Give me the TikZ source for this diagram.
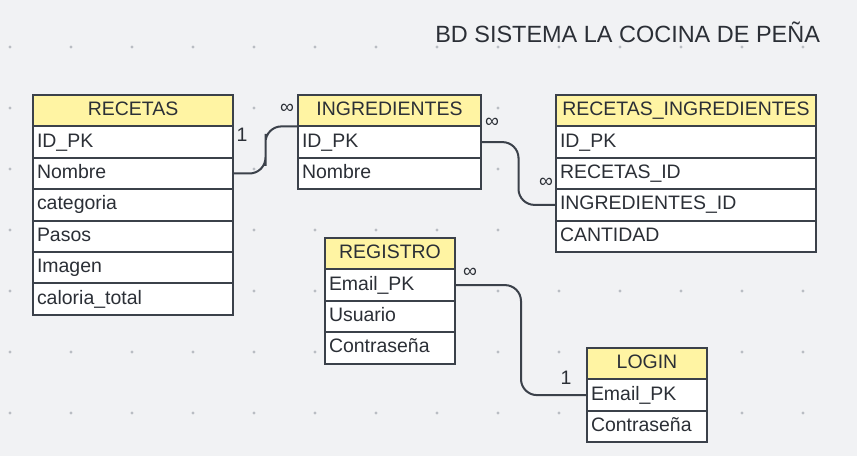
\documentclass[tikz,border=0pt]{standalone}
\usepackage{fontspec}
\setmainfont{Liberation Sans}
\usetikzlibrary{positioning,calc}
\definecolor{bgc}{HTML}{F1F2F4}
\definecolor{dotc}{HTML}{B9BDC3}
\definecolor{linec}{HTML}{3B414A}
\definecolor{headc}{HTML}{FFF4A3}
\definecolor{txtc}{HTML}{2B2F36}
\tikzset{
  cell/.style = {draw=linec, line width=1.5pt, outer sep=0pt, inner xsep=3pt, inner ysep=0pt,
    minimum height=23.55pt, text height=10.6pt, text depth=3pt, text=txtc,
    font=\fontsize{14.6}{17}\selectfont},
  head/.style = {cell, fill=headc, minimum width=#1, anchor=north west},
  row/.style = {cell, fill=white, text width=#1, align=left},
  conn/.style = {draw=linec, line width=1.5pt, rounded corners=12pt},
  card/.style = {text=txtc, inner sep=0pt, font=\fontsize{14.6}{17}\selectfont},
}
\begin{document}
\begin{tikzpicture}[x=0.75pt,y=-0.75pt]
  \fill[bgc] (0,0) rectangle (857,456);
  \useasboundingbox (0,0) rectangle (857,456);
  % dot grid
  \foreach \x in {10,71,...,803}
    \foreach \y in {47,108,...,413}
      \fill[dotc] (\x,\y) circle[radius=1.3pt];
  \node[text=txtc, inner sep=0pt, anchor=base west, font=\fontsize{17.6}{20}\selectfont] (ttl) at (435,43) {BD SISTEMA LA COCINA DE PEÑA};
  % RECETAS
  \node[head=150pt] (rec) at (33,95) {RECETAS};
  \node[row=144pt, below=0pt of rec] (rec-id) {ID\_PK};
  \node[row=144pt, below=0pt of rec-id] (rec-nom) {Nombre};
  \node[row=144pt, below=0pt of rec-nom] (rec-cat) {categoria};
  \node[row=144pt, below=0pt of rec-cat] (rec-pas) {Pasos};
  \node[row=144pt, below=0pt of rec-pas] (rec-img) {Imagen};
  \node[row=144pt, below=0pt of rec-img] (rec-cal) {caloria\_total};
  % INGREDIENTES
  \node[head=137.25pt] (ing) at (298,95) {INGREDIENTES};
  \node[row=131.25pt, below=0pt of ing] (ing-id) {ID\_PK};
  \node[row=131.25pt, below=0pt of ing-id] (ing-nom) {Nombre};
  % RECETAS_INGREDIENTES
  \node[head=195pt] (ri) at (556,95) {RECETAS\_INGREDIENTES};
  \node[row=189pt, below=0pt of ri] (ri-id) {ID\_PK};
  \node[row=189pt, below=0pt of ri-id] (ri-rec) {RECETAS\_ID};
  \node[row=189pt, below=0pt of ri-rec] (ri-ing) {INGREDIENTES\_ID};
  \node[row=189pt, below=0pt of ri-ing] (ri-cant) {CANTIDAD};
  % REGISTRO
  \node[head=97.5pt] (reg) at (325,238) {REGISTRO};
  \node[row=91.5pt, below=0pt of reg] (reg-mail) {Email\_PK};
  \node[row=91.5pt, below=0pt of reg-mail] (reg-usr) {Usuario};
  \node[row=91.5pt, below=0pt of reg-usr] (reg-pwd) {Contraseña};
  % LOGIN
  \node[head=90pt] (log) at (587,348) {LOGIN};
  \node[row=84pt, below=0pt of log] (log-mail) {Email\_PK};
  \node[row=84pt, below=0pt of log-mail] (log-pwd) {Contraseña};
  % relations
  \draw[conn] (rec-nom.east) -| ($(rec-nom.east)!.5!(ing-id.north west)$) |- (ing-id.north west);
  \draw[conn] (ing-id.east) -| ($(ing-id.east)!.5!(ri-ing.west)$) |- (ri-ing.west);
  \draw[conn] (reg-mail.east) -| ($(reg-mail.east)!.5!(log-mail.west)$) |- (log-mail.west);
  \node[card] (c1) at (242,135) {1};
  \node[card] (c2) at (287,109) {∞};
  \node[card] (c3) at (492,123) {∞};
  \node[card] (c4) at (546,183) {∞};
  \node[card] (c5) at (470,273) {∞};
  \node[card] (c6) at (566,378) {1};
\end{tikzpicture}
\end{document}
